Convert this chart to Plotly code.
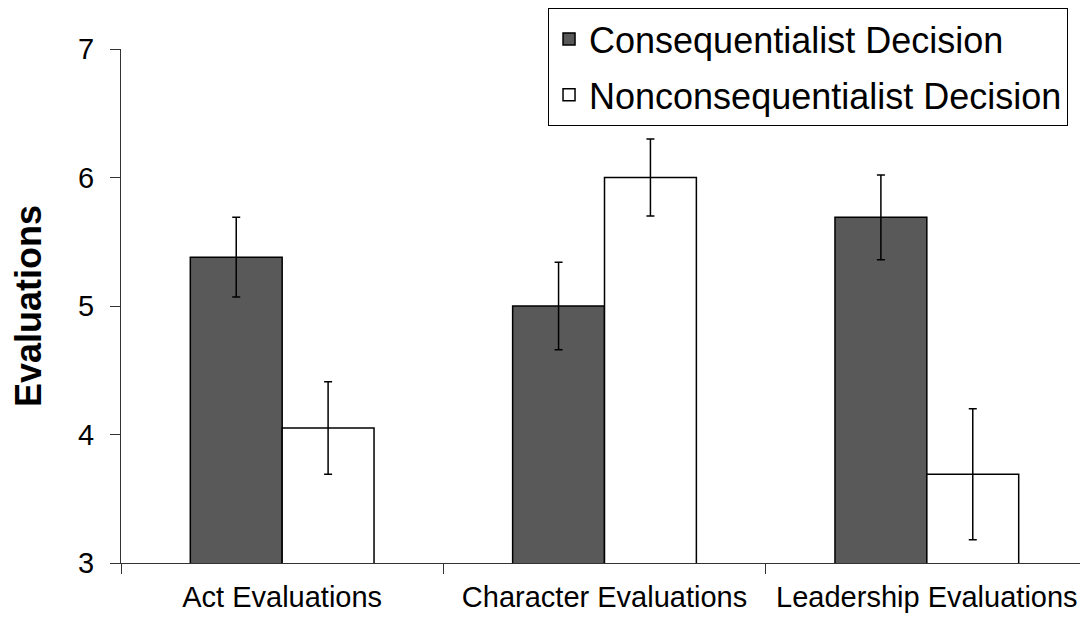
import plotly.graph_objects as go

categories = ["Act Evaluations", "Character Evaluations", "Leadership Evaluations"]
conseq_means = [5.38, 5.00, 5.69]
conseq_err = [0.31, 0.34, 0.33]
noncon_means = [4.05, 6.00, 3.69]
noncon_err = [0.36, 0.30, 0.51]

font_family = "Liberation Sans, Arial, sans-serif"

fig = go.Figure()

fig.add_bar(
    x=categories, y=conseq_means, name="Consequentialist Decision", legendgroup="a",
    marker=dict(color="#595959", line=dict(color="black", width=1.5)),
    error_y=dict(type="data", array=conseq_err, color="black", thickness=1.5, width=4),
)
fig.add_bar(
    x=categories, y=noncon_means, name="Nonconsequentialist Decision", legendgroup="b",
    marker=dict(color="white", line=dict(color="black", width=1.5)),
    error_y=dict(type="data", array=noncon_err, color="black", thickness=1.5, width=4),
)

# the page body adds an 8px offset, so the figure is a bit smaller than the window
fig.update_layout(
    width=1080, height=609,
    margin=dict(l=113, r=0, t=41, b=54),
    paper_bgcolor="white", plot_bgcolor="white",
    barmode="group", bargap=0.43, bargroupgap=0,
    font=dict(family=font_family, color="black"),
    legend=dict(
        x=0.4416, y=1.0798, xanchor="left", yanchor="top",
        bgcolor="white", bordercolor="black", borderwidth=1,
        font=dict(size=36), traceorder="grouped", tracegroupgap=6,
    ),
)

fig.update_xaxes(
    showline=True, linecolor="#333", linewidth=1,
    ticks="outside", tickson="boundaries", ticklen=10, tickcolor="#333",
    tickfont=dict(size=29), ticklabelstandoff=8, showgrid=False,
)
fig.update_yaxes(
    range=[3, 7], dtick=1, showline=True, linecolor="#333", linewidth=1,
    ticks="outside", ticklen=10, tickcolor="#333", showgrid=False, zeroline=False,
    tickfont=dict(size=29), ticklabelstandoff=10,
    title=dict(text="<b>Evaluations</b>", font=dict(size=36), standoff=30),
)

fig.write_html("out.html")
